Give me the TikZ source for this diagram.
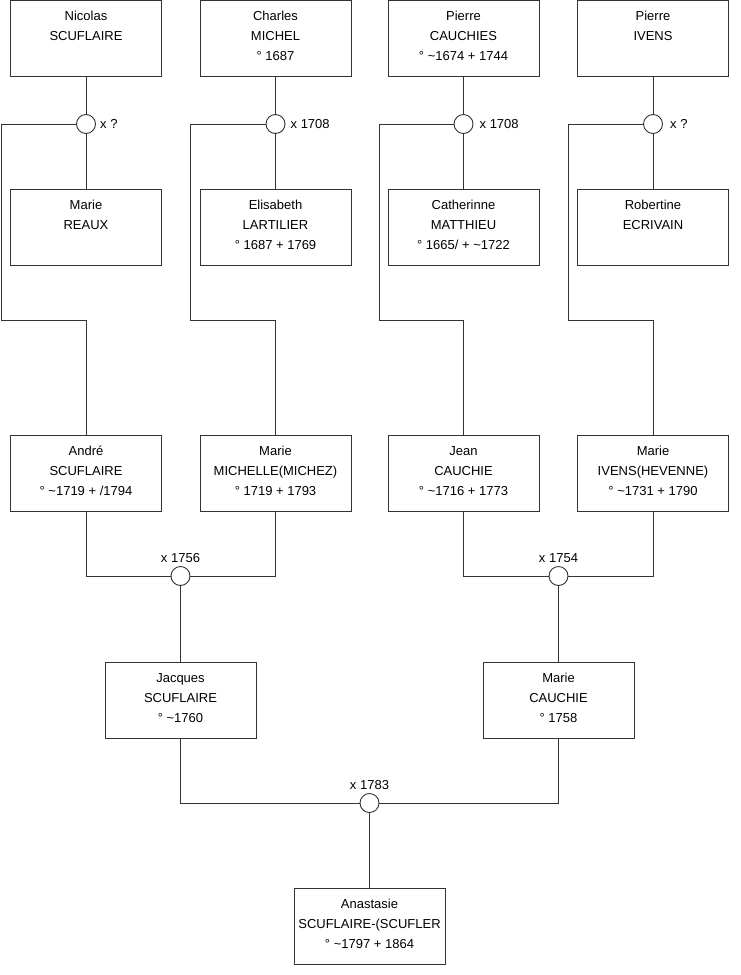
\documentclass[tikz,border=0pt]{standalone}
\usepackage{fontspec}
\setmainfont{Liberation Sans}
\usepackage{tikz}
\usetikzlibrary{positioning}

\begin{document}
\begin{tikzpicture}[
  x=1pt, y=-1pt,
  person/.style={draw=black!80, line width=0.9pt, minimum width=151pt,
                 minimum height=76pt, inner sep=0pt},
  ptext/.style={align=center, inner sep=0pt, font=\fontsize{13pt}{20pt}\selectfont},
  wed/.style={draw=black!80, line width=0.9pt, circle, fill=white,
              minimum size=19pt, inner sep=0pt},
  wtext/.style={inner sep=0pt, font=\fontsize{13pt}{20pt}\selectfont},
  link/.style={draw=black!80, line width=0.9pt}
]
\useasboundingbox (0,0) rectangle (740,975);

% grandparents, top row
\node[person] (nicolas) at (86,38.5) {};
\node[ptext, below=11pt of nicolas.north] {Nicolas\\SCUFLAIRE};
\node[person] (charles) at (275.5,38.5) {};
\node[ptext, below=11pt of charles.north] {Charles\\MICHEL\\° 1687};
\node[person] (pierrec) at (463.5,38.5) {};
\node[ptext, below=11pt of pierrec.north] {Pierre\\CAUCHIES\\° \textasciitilde1674 + 1744};
\node[person] (pierrei) at (653,38.5) {};
\node[ptext, below=11pt of pierrei.north] {Pierre\\IVENS};

% grandmothers
\node[person] (reaux) at (86,227) {};
\node[ptext, below=11pt of reaux.north] {Marie\\REAUX};
\node[person] (lartilier) at (275.5,227) {};
\node[ptext, below=11pt of lartilier.north] {Elisabeth\\LARTILIER\\° 1687 + 1769};
\node[person] (matthieu) at (463.5,227) {};
\node[ptext, below=11pt of matthieu.north] {Catherinne\\MATTHIEU\\° 1665/ + \textasciitilde1722};
\node[person] (ecrivain) at (653,227) {};
\node[ptext, below=11pt of ecrivain.north] {Robertine\\ECRIVAIN};

% first marriages
\node[wed] (m1) at (86,124) {};
\node[wtext, right=4pt of m1] {x ?};
\node[wed] (m2) at (275.5,124) {};
\node[wtext, right=5pt of m2] {x 1708};
\node[wed] (m3) at (463.5,124) {};
\node[wtext, right=6pt of m3] {x 1708};
\node[wed] (m4) at (653,124) {};
\node[wtext, right=7pt of m4] {x ?};

% parents
\node[person] (andre) at (86,473) {};
\node[ptext, below=11pt of andre.north] {André\\SCUFLAIRE\\° \textasciitilde1719 + /1794};
\node[person] (michelle) at (275.5,473) {};
\node[ptext, below=11pt of michelle.north] {Marie\\MICHELLE(MICHEZ)\\° 1719 + 1793};
\node[person] (jean) at (463.5,473) {};
\node[ptext, below=11pt of jean.north] {\vphantom{l}Jean\\CAUCHIE\\° \textasciitilde1716 + 1773};
\node[person] (ivens) at (653,473) {};
\node[ptext, below=11pt of ivens.north] {Marie\\IVENS(HEVENNE)\\° \textasciitilde1731 + 1790};

% second marriages
\node[wed] (m5) at (180.5,576) {};
\node[wtext, above=3pt of m5] {x 1756};
\node[wed] (m6) at (558.5,576) {};
\node[wtext, above=3pt of m6] {x 1754};

\node[person] (jacques) at (180.5,700) {};
\node[ptext, below=11pt of jacques.north] {\vphantom{l}Jacques\\SCUFLAIRE\\° \textasciitilde1760};
\node[person] (mariec) at (558.5,700) {};
\node[ptext, below=11pt of mariec.north] {Marie\\CAUCHIE\\° 1758};

\node[wed] (m7) at (369.5,803) {};
\node[wtext, above=3pt of m7] {x 1783};

\node[person] (anastasie) at (369.5,926) {};
\node[ptext, below=11pt of anastasie.north] {Anastasie\\SCUFLAIRE-(SCUFLER\\° \textasciitilde1797 + 1864};

% links
\draw[link] (nicolas) -- (m1) -- (reaux);
\draw[link] (charles) -- (m2) -- (lartilier);
\draw[link] (pierrec) -- (m3) -- (matthieu);
\draw[link] (pierrei) -- (m4) -- (ecrivain);
\draw[link] (m1.west) -| ++(-74.5,196) -| (andre.north);
\draw[link] (m2.west) -| ++(-75,196) -| (michelle.north);
\draw[link] (m3.west) -| ++(-74,196) -| (jean.north);
\draw[link] (m4.west) -| ++(-74.5,196) -| (ivens.north);
\draw[link] (andre.south) |- (m5.west);
\draw[link] (michelle.south) |- (m5.east);
\draw[link] (m5) -- (jacques);
\draw[link] (jean.south) |- (m6.west);
\draw[link] (ivens.south) |- (m6.east);
\draw[link] (m6) -- (mariec);
\draw[link] (jacques.south) |- (m7.west);
\draw[link] (mariec.south) |- (m7.east);
\draw[link] (m7) -- (anastasie);
\end{tikzpicture}
\end{document}
